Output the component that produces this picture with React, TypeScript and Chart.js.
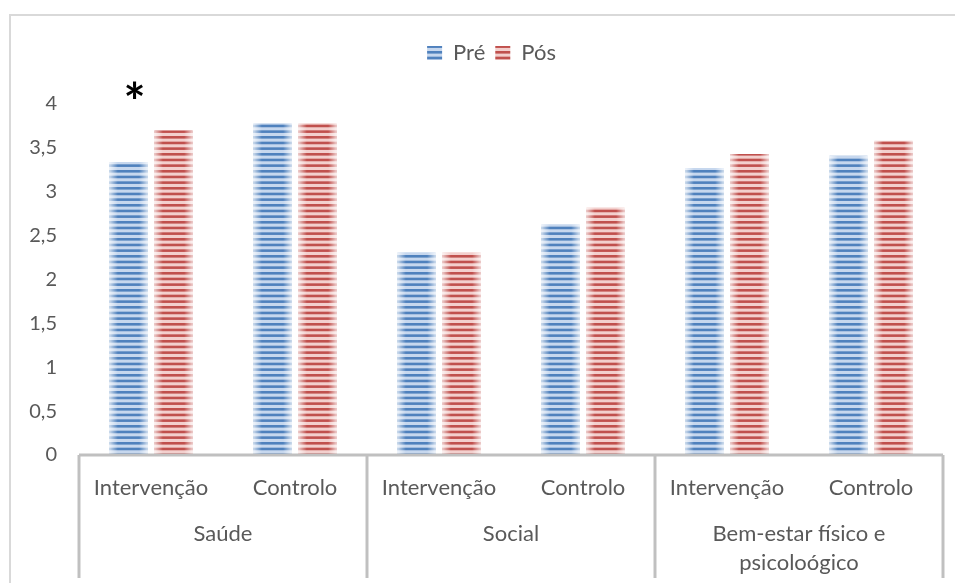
import { useEffect, useRef } from 'react';
import { Chart, registerables } from 'chart.js';

Chart.register(...registerables);

const subCategories = ['Intervenção', 'Controlo', 'Intervenção', 'Controlo', 'Intervenção', 'Controlo'];
const groupLabels = [['Saúde'], ['Social'], ['Bem-estar físico e', 'psicoloógico']];
const groupSizes = [2, 2, 2];
const seriesNames = ['Pré', 'Pós'];
const preValues = [3.34, 3.78, 2.31, 2.63, 3.27, 3.41];
const posValues = [3.7, 3.78, 2.31, 2.82, 3.43, 3.58];
const yMin = 0;
const yMax = 4;
const yStep = 0.5;
const significanceMarks = [{ dataset: 0, index: 0, text: '*' }];

const FONT = 'Lato, "Noto Sans", sans-serif';
const TEXT = '#595959';

function stripes(dark: string, light: string) {
  const c = document.createElement('canvas');
  c.width = 8;
  c.height = 17;
  const g = c.getContext('2d')!;
  g.fillStyle = light;
  g.fillRect(0, 0, 8, 17);
  g.fillStyle = dark;
  for (let k = 0; k < 3; k++) g.fillRect(0, (k * 17) / 3, 8, 2.6);
  return g.createPattern(c, 'repeat')!;
}

const framePlugin = {
  id: 'frame',
  afterLayout(chart: any) {
    if (chart.legend) {
      chart.legend.left += 10;
      chart.legend.right += 10;
    }
  },
  beforeDraw(chart: any) {
    const ctx = chart.ctx;
    ctx.save();
    ctx.fillStyle = '#ffffff';
    ctx.fillRect(0, 0, chart.width, chart.height);
    ctx.strokeStyle = '#d9d9d9';
    ctx.lineWidth = 2;
    ctx.strokeRect(10, 15, chart.width + 20, chart.height + 20);
    ctx.restore();
  },
};

const barShadePlugin = {
  id: 'barShade',
  afterDatasetsDraw(chart: any) {
    const ctx = chart.ctx;
    ctx.save();
    chart.data.datasets.forEach((_: any, di: number) => {
      const meta = chart.getDatasetMeta(di);
      meta.data.forEach((bar: any) => {
        const { x, y, base, width } = bar.getProps(['x', 'y', 'base', 'width'], true);
        const l = x - width / 2;
        const g = ctx.createLinearGradient(l, 0, l + width, 0);
        g.addColorStop(0, 'rgba(255,255,255,0.7)');
        g.addColorStop(0.22, 'rgba(255,255,255,0)');
        g.addColorStop(0.78, 'rgba(255,255,255,0)');
        g.addColorStop(1, 'rgba(255,255,255,0.7)');
        ctx.fillStyle = g;
        ctx.fillRect(l, y, width, base - y);
      });
    });
    ctx.restore();
  },
};

const axisPlugin = {
  id: 'groupAxis',
  afterDraw(chart: any) {
    const ctx = chart.ctx;
    const xs = chart.scales.x;
    const bottom = chart.chartArea.bottom;
    ctx.save();
    ctx.strokeStyle = '#c0c0c0';
    ctx.lineWidth = 3;
    ctx.beginPath();
    ctx.moveTo(xs.left, bottom);
    ctx.lineTo(xs.right, bottom);
    ctx.stroke();
    const bounds: number[] = [xs.left];
    let idx = 0;
    groupSizes.forEach((n, gi) => {
      idx += n;
      if (gi < groupSizes.length - 1) {
        bounds.push((xs.getPixelForValue(idx - 1) + xs.getPixelForValue(idx)) / 2);
      }
    });
    bounds.push(xs.right);
    bounds.forEach((bx) => {
      ctx.beginPath();
      ctx.moveTo(bx, bottom);
      ctx.lineTo(bx, bottom + 123);
      ctx.stroke();
    });
    ctx.fillStyle = TEXT;
    ctx.font = `22px ${FONT}`;
    ctx.textAlign = 'center';
    ctx.textBaseline = 'middle';
    groupLabels.forEach((lines, gi) => {
      const cx = (bounds[gi] + bounds[gi + 1]) / 2;
      lines.forEach((t, li) => ctx.fillText(t, cx, bottom + 79 + li * 29));
    });
    ctx.fillStyle = '#000000';
    ctx.font = `bold 52px ${FONT}`;
    significanceMarks.forEach((m) => {
      const bar = chart.getDatasetMeta(m.dataset).data[m.index];
      const ys = chart.scales.y;
      ctx.fillText(m.text, bar.x + 6, ys.getPixelForValue(4.0));
    });
    ctx.restore();
  },
};

export default function App() {
  const ref = useRef<HTMLCanvasElement>(null);
  useEffect(() => {
    document.body.style.margin = '0';
    const blue = stripes('#4f81bd', '#c6d7ee');
    const red = stripes('#c0504d', '#f3cfcd');
    const chart = new Chart(ref.current!, {
      type: 'bar',
      data: {
        labels: subCategories,
        datasets: [
          { label: seriesNames[0], data: preValues, backgroundColor: blue, borderWidth: 0, categoryPercentage: 0.625, barPercentage: 0.844 },
          { label: seriesNames[1], data: posValues, backgroundColor: red, borderWidth: 0, categoryPercentage: 0.625, barPercentage: 0.844 },
        ],
      },
      options: {
        responsive: false,
        animation: false,
        devicePixelRatio: 1,
        layout: { padding: { left: 20, right: 12, top: 32, bottom: 0 } },
        plugins: {
          legend: {
            position: 'top',
            labels: { boxWidth: 15, boxHeight: 14, padding: 10, color: TEXT, font: { family: FONT, size: 22 } },
          },
          title: {
            display: true,
            text: '',
            weight: 500,
            font: { size: 1, lineHeight: 1 },
            padding: { top: 0, bottom: 29 },
          } as any,
          tooltip: { enabled: false },
        },
        scales: {
          x: {
            grid: { display: false, drawTicks: false },
            border: { display: false },
            ticks: { color: TEXT, font: { family: FONT, size: 22 }, padding: 20, maxRotation: 0, autoSkip: false },
            afterFit(scale: any) {
              scale.height = 128;
            },
          },
          y: {
            min: yMin,
            max: yMax,
            grid: { display: false, drawTicks: false },
            border: { display: false },
            ticks: {
              stepSize: yStep,
              color: TEXT,
              padding: 22,
              font: { family: FONT, size: 20 },
              callback: (v: any) => String(v).replace('.', ','),
            },
            afterFit(scale: any) {
              scale.width = 59;
            },
          },
        },
      },
      plugins: [framePlugin, barShadePlugin, axisPlugin],
    });
    return () => chart.destroy();
  }, []);
  return (
    <div style={{ width: 955, height: 583 }}>
      <canvas ref={ref} width={955} height={583} />
    </div>
  );
}
